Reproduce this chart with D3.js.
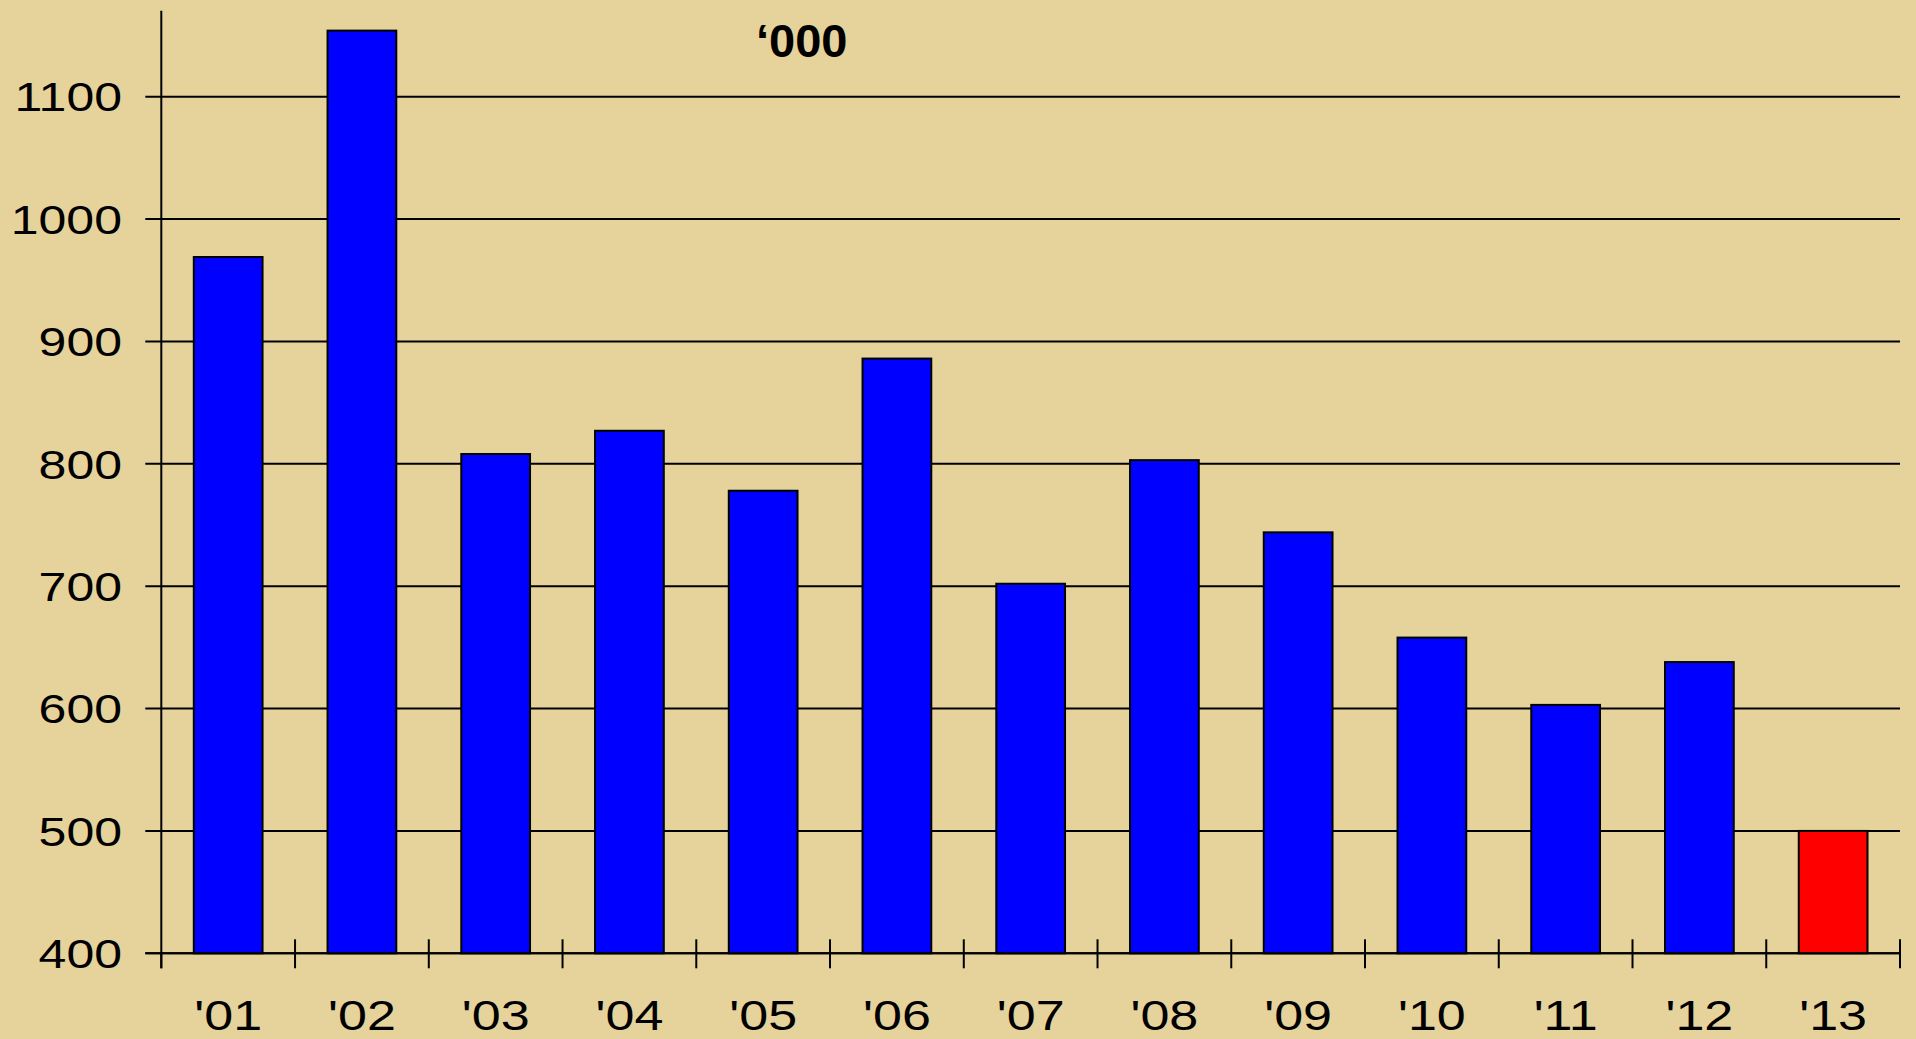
<!DOCTYPE html>
<html>
<head>
<meta charset="utf-8">
<script src="https://cdn.jsdelivr.net/npm/d3@7"></script>
<style>
  html, body { margin: 0; padding: 0; background: #E6D29B; }
  svg { display: block; }
</style>
</head>
<body>
<svg id="chart" width="1916" height="1039"></svg>
<script>
// Yearly totals, thousands
const years = ["'01", "'02", "'03", "'04", "'05", "'06", "'07", "'08", "'09", "'10", "'11", "'12", "'13"];
const totals = [969, 1154, 808, 827, 778, 886, 702, 803, 744, 658, 603, 638, 500];
const highlightYear = "'13";
const yTicks = [400, 500, 600, 700, 800, 900, 1000, 1100];
const unitLabel = "\u2018000";

const svg = d3.select("#chart");
const bg = "#E6D29B";
svg.append("rect").attr("width", 1916).attr("height", 1039).attr("fill", bg);

const left = 161.3, right = 1900, bottom = 953.3, axisTop = 10.7;
const font = "'Liberation Sans', Arial, sans-serif";

const x = d3.scaleBand()
  .domain(years)
  .range([left, right])
  .paddingInner(0.486)
  .paddingOuter(0.243);

const y = d3.scaleLinear()
  .domain([400, 1100])
  .range([bottom, 96.7]);

// horizontal gridlines
svg.append("g")
  .selectAll("line")
  .data(yTicks)
  .join("line")
  .attr("x1", left - 16)
  .attr("x2", right)
  .attr("y1", d => y(d))
  .attr("y2", d => y(d))
  .attr("stroke", "#000")
  .attr("stroke-width", 2);

// y axis labels (wide-set digits)
svg.append("g")
  .selectAll("text")
  .data(yTicks)
  .join("text")
  .attr("transform", d => `translate(122,${y(d)}) scale(1.22,1)`)
  .attr("dy", "0.36em")
  .attr("text-anchor", "end")
  .attr("font-family", font)
  .attr("font-size", 41)
  .attr("fill", "#000")
  .text(d => d);

// bars
svg.append("g")
  .selectAll("rect")
  .data(years.map((yr, i) => ({ yr, v: totals[i] })))
  .join("rect")
  .attr("x", d => x(d.yr))
  .attr("width", x.bandwidth())
  .attr("y", d => y(d.v))
  .attr("height", d => y(400) - y(d.v))
  .attr("fill", d => d.yr === highlightYear ? "#FF0000" : "#0000FF")
  .attr("stroke", "#000")
  .attr("stroke-width", 2);

// x axis with ticks at category boundaries
const step = x.step();
const boundaries = d3.range(years.length + 1).map(i => left + i * step);
const axisG = svg.append("g");
axisG.append("line")
  .attr("x1", left - 16).attr("x2", right)
  .attr("y1", bottom).attr("y2", bottom)
  .attr("stroke", "#000").attr("stroke-width", 2);
axisG.selectAll("line.tick")
  .data(boundaries)
  .join("line")
  .attr("class", "tick")
  .attr("x1", d => d).attr("x2", d => d)
  .attr("y1", (d, i) => i === 0 ? bottom : bottom - 14)
  .attr("y2", bottom + 15)
  .attr("stroke", "#000").attr("stroke-width", 2);

// y axis line
svg.append("line")
  .attr("x1", left).attr("x2", left)
  .attr("y1", axisTop).attr("y2", bottom + 15)
  .attr("stroke", "#000").attr("stroke-width", 2);

// category labels
svg.append("g")
  .selectAll("text")
  .data(years)
  .join("text")
  .attr("transform", d => `translate(${x(d) + x.bandwidth() / 2},1030) scale(1.24,1)`)
  .attr("text-anchor", "middle")
  .attr("font-family", font)
  .attr("font-size", 42)
  .attr("fill", "#000")
  .text(d => d);

// unit label
svg.append("text")
  .attr("x", 756)
  .attr("y", 56.7)
  .attr("font-family", font)
  .attr("font-weight", "bold")
  .attr("font-size", 47)
  .attr("fill", "#000")
  .text(unitLabel);
</script>
</body>
</html>
